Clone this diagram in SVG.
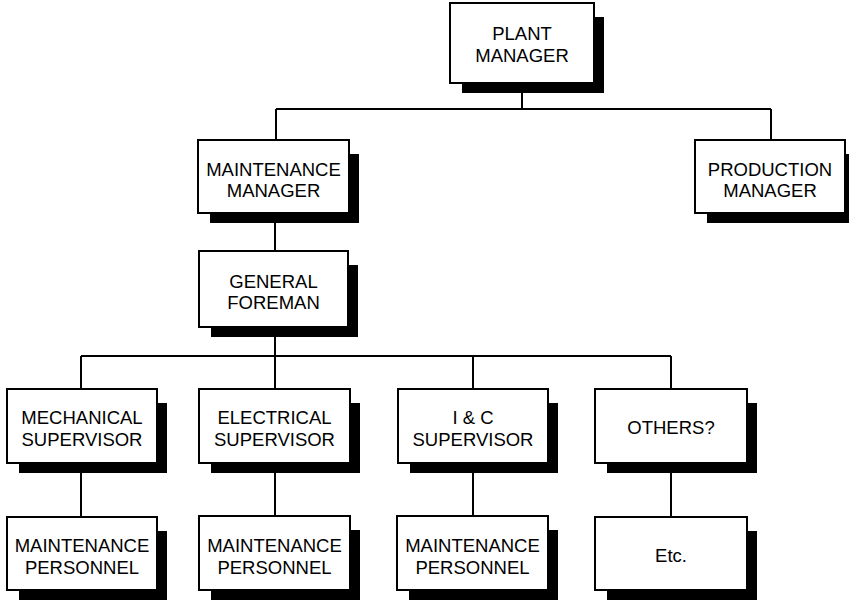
<svg xmlns="http://www.w3.org/2000/svg" width="849" height="603" viewBox="0 0 849 603">
  <style>
    .box { fill: #fff; stroke: #000; stroke-width: 2; }
    .shadow { fill: #000; }
    .wire { fill: none; stroke: #000; stroke-width: 2; }
    text { font-family: "Liberation Sans", Arial, Helvetica, sans-serif; font-size: 18.5px; fill: #000; text-anchor: middle; }
  </style>
  <rect width="849" height="603" fill="#fff"/>

  <!-- reporting lines -->
  <g id="connectors">
    <path class="wire" d="M522 90 V109 M276 109 H771 M276 109 V140 M771 109 V140"/>
    <path class="wire" d="M275 220 V251"/>
    <path class="wire" d="M275 335 V356 M81 356 H671 M81 356 V389 M275 356 V389 M473 356 V389 M671 356 V389"/>
    <path class="wire" d="M81 470 V517 M275 470 V516 M473 470 V516 M671 470 V517"/>
  </g>

  <!-- each box: shadow offset to lower right, then the white frame -->
  <g id="plant-manager">
    <rect class="shadow" x="462" y="17" width="142" height="76"/>
    <rect class="box" x="450" y="3" width="144" height="80"/>
    <text x="522" y="40">PLANT</text>
    <text x="522" y="62">MANAGER</text>
  </g>

  <g id="maintenance-manager">
    <rect class="shadow" x="210" y="154" width="149" height="69"/>
    <rect class="box" x="198" y="140" width="151" height="73"/>
    <text x="273.5" y="176">MAINTENANCE</text>
    <text x="273.5" y="197">MANAGER</text>
  </g>

  <g id="production-manager">
    <rect class="shadow" x="707" y="154" width="148" height="69"/>
    <rect class="box" x="695" y="140" width="150" height="73"/>
    <text x="770" y="176">PRODUCTION</text>
    <text x="770" y="197">MANAGER</text>
  </g>

  <g id="general-foreman">
    <rect class="shadow" x="211" y="265" width="147" height="72"/>
    <rect class="box" x="199" y="251" width="149" height="76"/>
    <text x="273.5" y="288">GENERAL</text>
    <text x="273.5" y="309">FOREMAN</text>
  </g>

  <g id="mechanical-supervisor">
    <rect class="shadow" x="19" y="403" width="148" height="70"/>
    <rect class="box" x="7" y="389" width="150" height="74"/>
    <text x="82" y="424">MECHANICAL</text>
    <text x="82" y="446">SUPERVISOR</text>
  </g>

  <g id="electrical-supervisor">
    <rect class="shadow" x="211" y="403" width="149" height="70"/>
    <rect class="box" x="199" y="389" width="151" height="74"/>
    <text x="274.5" y="424">ELECTRICAL</text>
    <text x="274.5" y="446">SUPERVISOR</text>
  </g>

  <g id="ic-supervisor">
    <rect class="shadow" x="410" y="403" width="148" height="70"/>
    <rect class="box" x="398" y="389" width="150" height="74"/>
    <text x="473" y="424">I &amp; C</text>
    <text x="473" y="446">SUPERVISOR</text>
  </g>

  <g id="others">
    <rect class="shadow" x="607" y="403" width="150" height="70"/>
    <rect class="box" x="595" y="389" width="152" height="74"/>
    <text x="671" y="434">OTHERS?</text>
  </g>

  <g id="mechanical-personnel">
    <rect class="shadow" x="19" y="531" width="148" height="69"/>
    <rect class="box" x="7" y="517" width="150" height="73"/>
    <text x="82" y="552">MAINTENANCE</text>
    <text x="82" y="574">PERSONNEL</text>
  </g>

  <g id="electrical-personnel">
    <rect class="shadow" x="211" y="530" width="149" height="70"/>
    <rect class="box" x="199" y="516" width="151" height="74"/>
    <text x="274.5" y="552">MAINTENANCE</text>
    <text x="274.5" y="574">PERSONNEL</text>
  </g>

  <g id="ic-personnel">
    <rect class="shadow" x="409" y="530" width="149" height="70"/>
    <rect class="box" x="397" y="516" width="151" height="74"/>
    <text x="472.5" y="552">MAINTENANCE</text>
    <text x="472.5" y="574">PERSONNEL</text>
  </g>

  <g id="etc">
    <rect class="shadow" x="607" y="531" width="150" height="69"/>
    <rect class="box" x="595" y="517" width="152" height="73"/>
    <text x="671" y="562">Etc.</text>
  </g>
</svg>
